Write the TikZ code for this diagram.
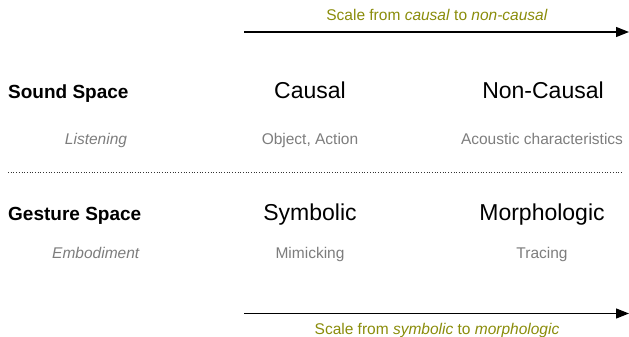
\documentclass[tikz,border=0pt]{standalone}
\usepackage{fontspec}
\setmainfont{Liberation Sans}
\usetikzlibrary{arrows.meta}
\definecolor{olivetxt}{RGB}{138,140,10}
\definecolor{graytxt}{RGB}{125,125,125}
\tikzset{
  txt/.style={inner sep=0pt, anchor=base},
  scalelbl/.style={txt, text=olivetxt, font=\fontsize{15.5}{18}\selectfont},
  spacelbl/.style={txt, anchor=base west, font=\fontsize{19}{22}\selectfont\bfseries},
  catlbl/.style={txt, font=\fontsize{23}{26}\selectfont},
  sublbl/.style={txt, text=graytxt, font=\fontsize{15.5}{18}\selectfont},
  scalearrow/.style={line width=1.3pt, -{Triangle[length=13pt,width=10pt]}},
  sep/.style={line width=0.9pt, dash pattern=on 1pt off 1.7pt, black!80}
}
\begin{document}
\begin{tikzpicture}[x=1pt,y=-1pt]
\useasboundingbox (0,0) rectangle (629,337);
% top scale
\node[scalelbl] (topscale) at (437,21) {Scale from \textit{causal} to \textit{non-causal}};
\coordinate (ta) at (244,32);
\coordinate (tb) at (629,32);
\draw[scalearrow] (ta) -- (tb);
% sound row
\node[spacelbl] (sound) at (8,98) {Sound Space};
\node[catlbl] (causal) at (310,98) {Causal};
\node[catlbl] (noncausal) at (543,98) {Non-Causal};
\node[sublbl] (listening) at (96,144) {\textit{Listening}};
\node[sublbl] (objact) at (310,144) {Object, Action};
\node[sublbl] (acoustic) at (542,144) {Acoustic characteristics};
% separator
\coordinate (sa) at (8,172.5);
\coordinate (sb) at (621,172.5);
\draw[sep] (sa) -- (sb);
% gesture row
\node[spacelbl] (gesture) at (8,220) {Gesture Space};
\node[catlbl] (symbolic) at (310,220.5) {Symbolic};
\node[catlbl] (morph) at (542,220.5) {Morphologic};
\node[sublbl] (embod) at (96,258) {\textit{Embodiment}};
\node[sublbl] (mimic) at (310,258) {Mimicking};
\node[sublbl] (tracing) at (542,258) {Tracing};
% bottom scale
\coordinate (ba) at (244,313.5);
\coordinate (bb) at (629,313.5);
\draw[scalearrow] (ba) -- (bb);
\node[scalelbl] (botscale) at (437,334) {Scale from \textit{symbolic} to \textit{morphologic}};
\end{tikzpicture}
\end{document}
